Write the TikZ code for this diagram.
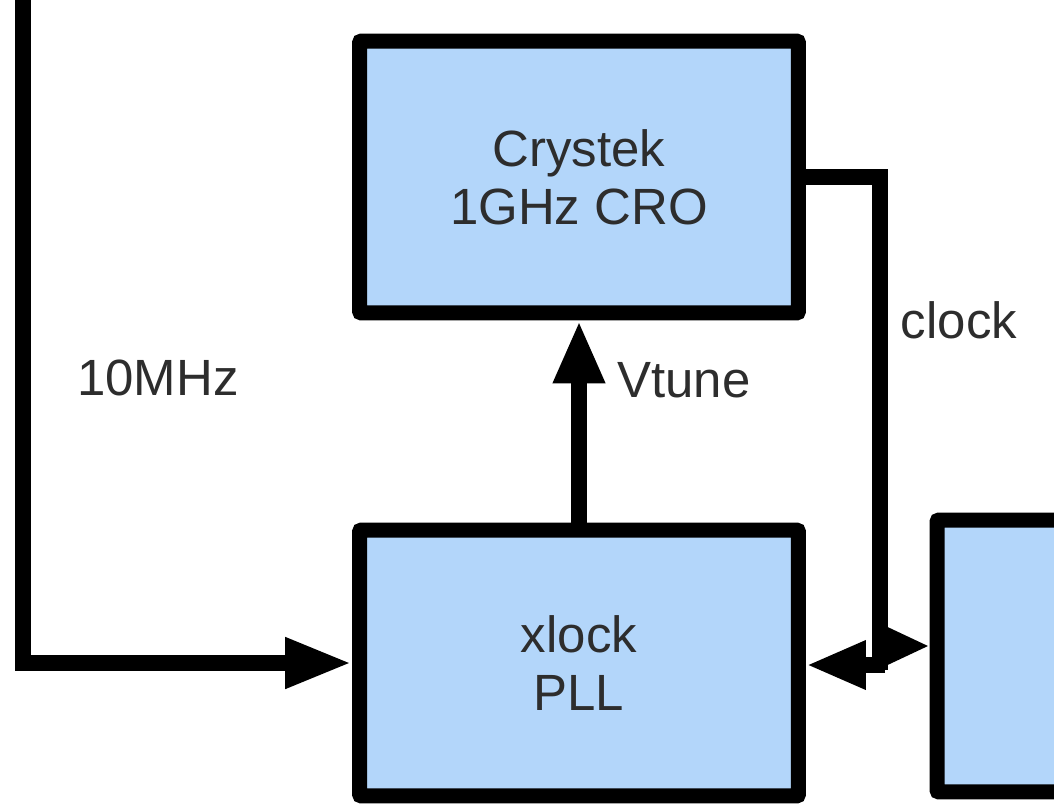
\documentclass[tikz,border=0pt]{standalone}
\usepackage{fontspec}
\setmainfont{Liberation Sans}
\usetikzlibrary{arrows.meta}
\definecolor{boxfill}{RGB}{179,214,250}
\definecolor{txt}{RGB}{45,45,45}
\begin{document}
\begin{tikzpicture}[x=0.02cm,y=-0.02cm,
  blk/.style={draw=black, fill=boxfill, line width=0.3cm, rounded corners=0.04cm, inner sep=0pt,
    align=center, text=txt, font=\fontsize{29}{33}\selectfont},
  conn/.style={draw=black, line width=0.32cm},
  lbl/.style={text=txt, font=\fontsize{29}{33}\selectfont, inner sep=0pt}
]
\useasboundingbox (0,0) rectangle (1054,806);
\begin{scope}
\clip (0,0) rectangle (1054,806);
\node[blk, minimum width=8.78cm, minimum height=5.44cm] (cro) at (579,177) {Crystek\\1GHz CRO};
\node[blk, minimum width=8.78cm, minimum height=5.32cm] (pll) at (579,663) {xlock\\PLL};
\node[blk, minimum width=6cm, minimum height=5.44cm] (rb) at (1087,656) {};

\coordinate (top) at (23,-20);
\draw[conn, -{Triangle[length=1.34cm,width=0.94cm]}] (top) |- (pll.west);
\draw[conn, -{Triangle[length=1.26cm,width=0.96cm]}] (pll.north) -- (cro.south);
\coordinate (j) at (880,670);
\coordinate (jr) at (880,646);
\coordinate (jl) at (885,665);
\draw[conn] (cro.east) -| (j);
\draw[conn, -{Triangle[length=0.92cm,width=0.76cm]}] (jr) -- (jr -| rb.west);
\draw[conn, -{Triangle[length=1.2cm,width=0.9cm]}] (jl) -- (jl -| pll.east);
\end{scope}

\node[lbl] (l10) at (158,378) {10MHz};
\node[lbl] (lv) at (684,380) {Vtune};
\node[lbl] (lc) at (959,320) {clock};
\end{tikzpicture}
\end{document}
